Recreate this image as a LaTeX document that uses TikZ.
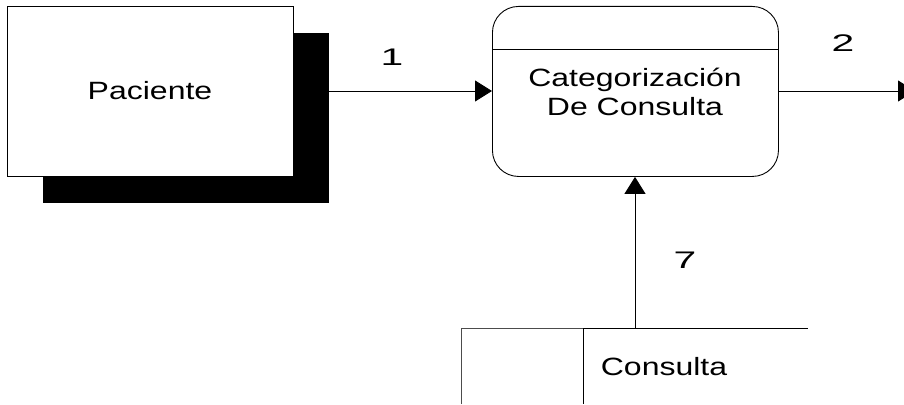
\documentclass[tikz,border=0pt]{standalone}
\usepackage{fontspec}
\setmainfont{Liberation Sans}
\usetikzlibrary{arrows.meta}
\begin{document}
\begin{tikzpicture}[x=1pt,y=-1pt,
  lbl/.style={font=\fontsize{25}{29}\selectfont, inner sep=0pt, align=center, xscale=1.28, transform shape},
  num/.style={font=\fontsize{24}{29}\selectfont, inner sep=0pt, xscale=1.7, transform shape},
  flow/.style={draw=black, line width=0.9pt, -{Triangle[length=17pt,width=21pt]}},
  ln/.style={draw=black, line width=0.9pt}]
\useasboundingbox (0,0) rectangle (904,404);
% external entity with shadow
\node[fill=black, minimum width=286pt, minimum height=170pt, inner sep=0pt, anchor=north west] (pacsh) at (43,33) {};
\node[draw=black, fill=white, line width=0.9pt, minimum width=286pt, minimum height=170pt, inner sep=0pt, anchor=north west] (pac) at (7,6) {};
\node[lbl] (pactxt) at (150,91) {Paciente};
% process
\node[draw=black, line width=0.9pt, rounded corners=26pt, minimum width=286pt, minimum height=170pt, inner sep=0pt, anchor=north west] (proc) at (492,6) {};
\draw[ln] ([yshift=-43pt]proc.north west) -- ([yshift=-43pt]proc.north east);
\node[lbl] (proctxt) at (635,92) {Categorización\\De Consulta};
% data store
\coordinate (stL) at (461,328);
\coordinate (stM) at (583,328);
\coordinate (stR) at (808,328);
\coordinate (stLb) at (461,404);
\coordinate (stMb) at (583,404);
\draw[ln, draw=black!70] (stLb) -- (stL) -- (stM);
\draw[ln] (stM) -- (stR);
\draw[ln] (stM) -- (stMb);
\node[lbl] (store) at (664,367) {Consulta};
\coordinate (st7) at (635,328);
\coordinate (out2) at (915,91);
% flows
\draw[flow] (pac.east |- 0,91) -- (proc.west |- 0,91);
\draw[flow] (proc.east |- 0,91) -- (out2);
\draw[flow] (st7) -- (proc.south -| st7);
\node[num] (n1) at (392,57) {1};
\node[num] (n2) at (843,43) {2};
\node[num] (n7) at (685,260) {7};
\end{tikzpicture}
\end{document}
